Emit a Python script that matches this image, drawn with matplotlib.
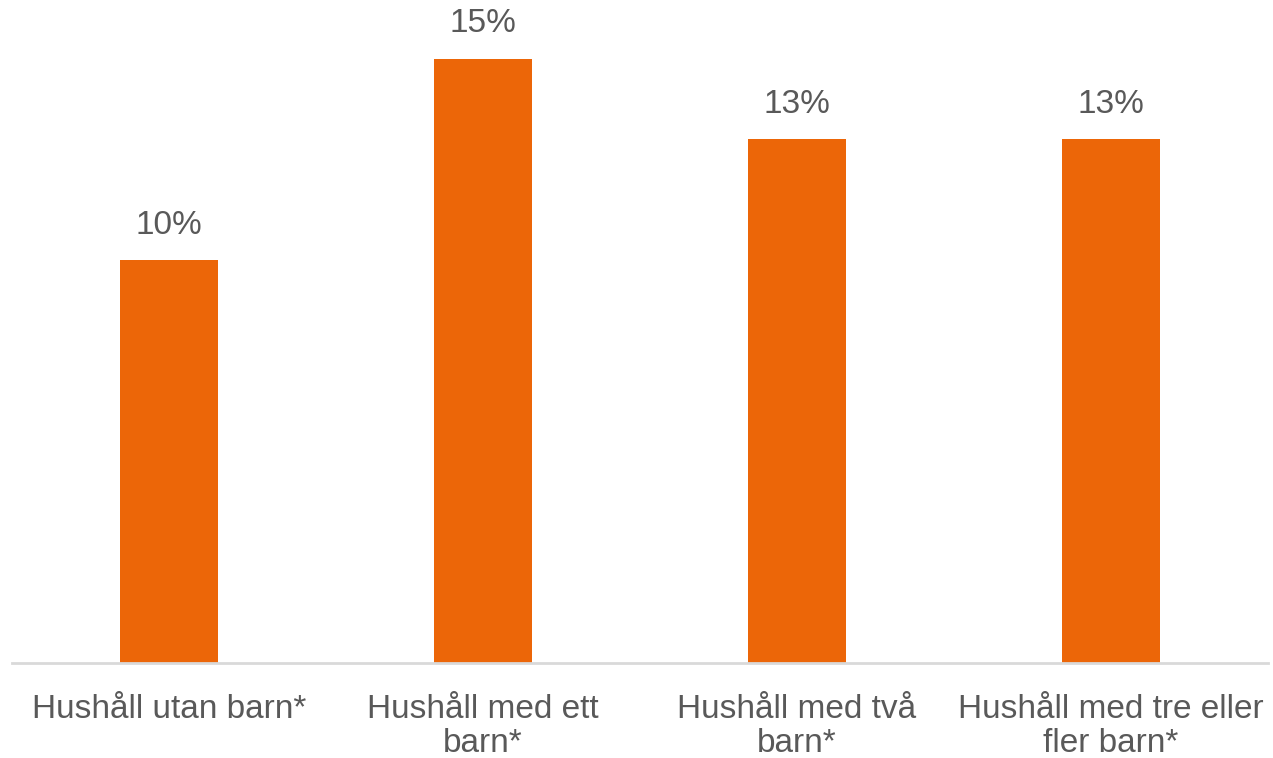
import matplotlib.pyplot as plt
import numpy as np

plt.rcParams['font.family'] = ['Liberation Sans', 'DejaVu Sans']

categories = ['Hushåll utan barn*', 'Hushåll med ett\nbarn*',
              'Hushåll med två\nbarn*', 'Hushåll med tre eller\nfler barn*']
values = [10, 15, 13, 13]

fig = plt.figure(figsize=(12.73, 7.58), dpi=100)
ax = fig.add_axes([12 / 1273, 1 - 663 / 758, 1256 / 1273, 663 / 758])

x = np.arange(len(categories))
ax.bar(x, values, width=0.31, color='#EC6608', zorder=2)

for xi, v in zip(x, values):
    ax.annotate(f'{v}%', (xi, v), xytext=(0, 14), textcoords='offset points',
                ha='center', va='bottom', fontsize=24, color='#595959')

ax.set_xlim(-0.5, 3.5)
ax.set_ylim(0, 663 / 40.3)
ax.set_xticks(x)
ax.set_xticklabels(categories, fontsize=24, color='#595959', linespacing=1.14)
ax.tick_params(axis='x', length=0, pad=22)
ax.set_yticks([])

for side in ['top', 'right', 'left']:
    ax.spines[side].set_visible(False)
ax.spines['bottom'].set_color('#D9D9D9')
ax.spines['bottom'].set_linewidth(2)

plt.savefig('out.png', dpi=100)
